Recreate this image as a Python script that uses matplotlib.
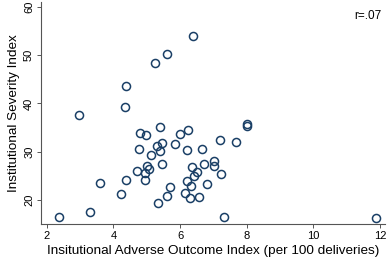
import matplotlib
matplotlib.use("Agg")
import matplotlib.pyplot as plt

plt.rcParams["font.family"] = ["Liberation Sans", "DejaVu Sans"]

# adverse outcome index (per 100 deliveries) vs severity index
adverse = [6.38, 5.61, 5.26, 4.39, 4.36, 2.96, 5.39, 6.24, 4.80, 4.99,
           6.01, 5.46, 5.32, 5.85, 4.77, 5.39, 6.22, 6.65, 5.12, 5.47,
           6.73, 5.02, 6.36, 5.08, 4.72, 6.50, 4.96, 6.42, 6.22, 4.96,
           4.39, 3.60, 6.81, 5.71, 6.33, 4.22, 6.14, 5.60, 6.30, 6.58,
           5.35, 3.30, 2.38, 8.02, 8.02, 7.21, 7.69, 7.03, 7.03, 7.22,
           7.33, 11.87]
severity = [54.05, 50.32, 48.33, 43.56, 39.17, 37.55, 35.07, 34.40, 33.82, 33.51,
            33.68, 31.88, 31.19, 31.54, 30.51, 30.22, 30.36, 30.57, 29.39, 27.50,
            27.40, 26.94, 26.88, 26.32, 25.91, 25.76, 25.53, 25.04, 24.00, 24.10,
            24.15, 23.46, 23.25, 22.76, 22.80, 21.20, 21.51, 20.87, 20.35, 20.66,
            19.27, 17.51, 16.48, 35.65, 35.34, 32.39, 32.08, 28.02, 27.09, 25.33,
            16.41, 16.27]

fig = plt.figure(figsize=(3.87, 2.64), dpi=100)
ax = fig.add_axes([0.106, 0.1515, 0.889, 0.84])

ax.plot(adverse, severity, linestyle="none", marker="o", markersize=5.8,
        markerfacecolor="none", markeredgecolor="#1a3f66", markeredgewidth=1.1)

ax.set_xlim(1.83, 12.15)
ax.set_ylim(15, 61)
ax.set_xticks([2, 4, 6, 8, 10, 12])
ax.set_yticks([20, 30, 40, 50, 60])

for s in ["top", "right"]:
    ax.spines[s].set_visible(False)
for s in ["left", "bottom"]:
    ax.spines[s].set_color("#555555")
    ax.spines[s].set_linewidth(0.8)

ax.tick_params(direction="out", length=3, width=0.7, color="#555555",
               labelsize=8, pad=2)
plt.setp(ax.get_yticklabels(), rotation=90, va="center")

ax.set_xlabel("Insitutional Adverse Outcome Index (per 100 deliveries)", fontsize=9.7, labelpad=3)
ax.set_ylabel("Institutional Severity Index", fontsize=9.7, labelpad=3)

ax.text(0.99, 0.939, "r=.07", transform=ax.transAxes, ha="right", va="center", fontsize=8.5)

fig.savefig("out.png", dpi=100)
